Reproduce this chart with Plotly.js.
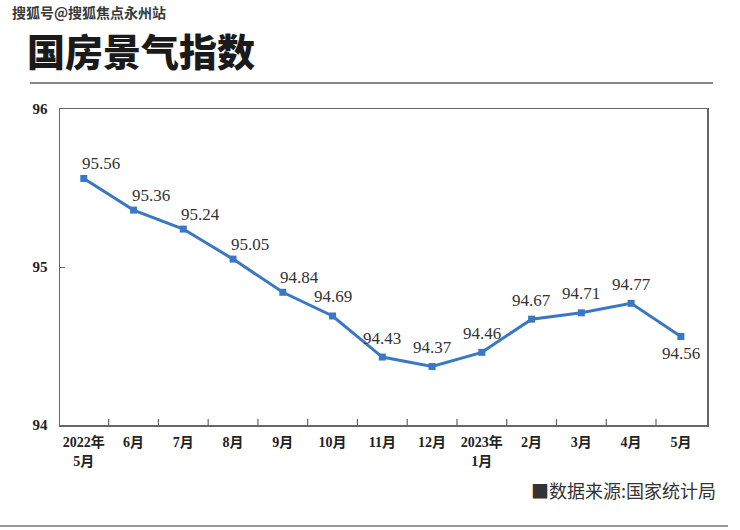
<!DOCTYPE html>
<html>
<head>
<meta charset="utf-8">
<script src="https://cdn.plot.ly/plotly-3.0.1.min.js"></script>
<style>
html,body{margin:0;padding:0;background:#fff;}
#chart{width:740px;height:530px;}
</style>
</head>
<body>
<div id="chart"></div>
<script>
const categories = ["2022年<br>5月","6月","7月","8月","9月","10月","11月","12月","2023年<br>1月","2月","3月","4月","5月"];
const values = [95.56, 95.36, 95.24, 95.05, 94.84, 94.69, 94.43, 94.37, 94.46, 94.67, 94.71, 94.77, 94.56];
const yTicks = [94, 95, 96];
const chartTitle = "国房景气指数";
const watermark = "搜狐号@搜狐焦点永州站";
const sourceNote = "■数据来源:国家统计局";

const xIdx = categories.map((c, i) => i);
const lastIdx = values.length - 1;

const trace = {
  x: xIdx,
  y: values,
  type: "scatter",
  mode: "lines+markers",
  line: {color: "#3a78c4", width: 3},
  marker: {symbol: "square", size: 7, color: "#3a78c4"},
  hoverinfo: "skip"
};

const labelAnnotations = values.map((v, i) => ({
  x: i, y: v, xref: "x", yref: "y",
  text: v.toFixed(2),
  showarrow: false,
  xanchor: "center", yanchor: "middle",
  xshift: i < 5 ? 17 : 0,
  yshift: i === lastIdx ? -17 : (i < 5 ? 15 : 19),
  font: {family: "Liberation Serif, serif", size: 17, color: "#333"}
}));

const layout = {
  width: 740, height: 530,
  margin: {l: 60, r: 33, t: 109, b: 105},
  paper_bgcolor: "#fff", plot_bgcolor: "#fff",
  showlegend: false,
  title: {
    text: chartTitle,
    font: {family: "Noto Sans CJK SC", size: 38, color: "#1a1a1a", weight: 900},
    x: 27/740, xref: "container", xanchor: "left",
    y: 1 - 53/530, yref: "container", yanchor: "middle"
  },
  xaxis: {
    range: [-0.478, 12.525],
    tickmode: "array",
    tickvals: xIdx,
    ticktext: categories,
    ticks: "",
    ticklabelstandoff: 4,
    showline: true, linecolor: "#666", linewidth: 1.5, mirror: true,
    showgrid: false, zeroline: false,
    tickfont: {family: "Liberation Serif, Noto Sans CJK SC", size: 14, color: "#222", weight: "bold"},
    fixedrange: true
  },
  yaxis: {
    range: [94, 96],
    tickmode: "array",
    tickvals: yTicks,
    ticktext: yTicks.map(String),
    ticks: "inside", ticklen: 5, tickcolor: "#666",
    showline: true, linecolor: "#666", linewidth: 1.5, mirror: true,
    showgrid: false, zeroline: false,
    tickfont: {family: "Liberation Serif, serif", size: 15, color: "#222", weight: "bold"},
    ticklabelstandoff: 8,
    fixedrange: true
  },
  shapes: [
    {type: "line", xref: "paper", yref: "paper", x0: -30/647, x1: 653/647, y0: 1 + 26/316, y1: 1 + 26/316, line: {color: "#888", width: 2}},
    {type: "line", xref: "paper", yref: "paper", x0: -60/647, x1: 668/647, y0: -101/316, y1: -101/316, line: {color: "#999", width: 2}}
  ].concat(xIdx.slice(0, -1).map(i => ({
    type: "line", xref: "x", yref: "paper", x0: i + 0.5, x1: i + 0.5, y0: 0, y1: 6/316,
    line: {color: "#666", width: 1.2}
  }))),
  annotations: labelAnnotations.concat([
    {text: watermark, xref: "paper", yref: "paper", x: -50/647, y: 1 + 97/316, xanchor: "left", yanchor: "middle",
     showarrow: false, font: {family: "Noto Sans CJK SC", size: 14, color: "#3a3a3a", weight: "bold"}},
    {text: sourceNote, xref: "paper", yref: "paper", x: 1 + 11/647, y: -65/316, xanchor: "right", yanchor: "middle",
     showarrow: false, font: {family: "Noto Sans CJK SC", size: 18, color: "#333"}}
  ])
};

Plotly.newPlot("chart", [trace], layout, {displayModeBar: false, staticPlot: true});
</script>
</body>
</html>
